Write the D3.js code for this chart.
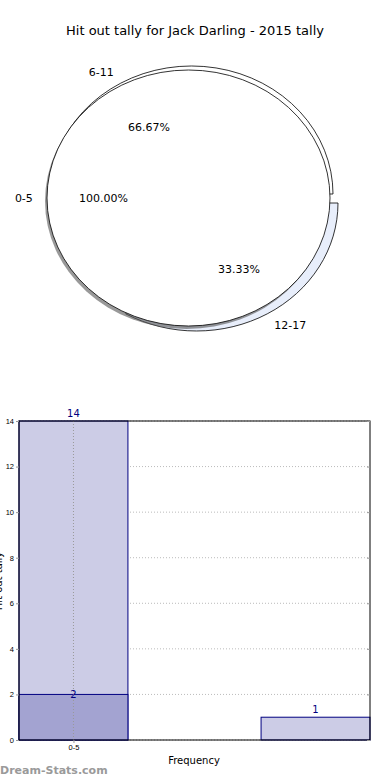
<!DOCTYPE html>
<html>
<head>
<meta charset="utf-8">
<script src="https://cdn.jsdelivr.net/npm/d3@7"></script>
<style>
  body { margin: 0; background: #fff; }
  svg { display: block; font-family: "DejaVu Sans", sans-serif; }
</style>
</head>
<body>
<svg width="390" height="780"></svg>
<script>
// pie data (fractions as printed, not normalised)
var pieLabels = ["0-5", "6-11", "12-17"];
var pieFractions = [1.0, 0.6667, 0.3333];

// bar data
var barCategories = ["0-5", "6-11", "12-17"];
var totalValues = [14, 0, 1];
var seasonValues = [2, 0, 0];
var yTicks = [0, 2, 4, 6, 8, 10, 12, 14];

var svg = d3.select("svg");

svg.append("text")
  .attr("x", 195).attr("y", 35)
  .attr("text-anchor", "middle")
  .style("font-size", "13px")
  .text("Hit out tally for Jack Darling - 2015 tally");

// ---- pie ----
var pie = { cx: 188.5, cy: 198, rx: 141.5, ry: 128 };
var explode = [[0, 0], [3, -4], [8, 5]];
var fills = ["#ffffff", "#ffffff", "#e8eefb"];

// matplotlib style angles: ccw from 3 o'clock, cumulative
var wedges = [];
var acc = 0;
pieFractions.forEach((f, i) => {
  wedges.push({ key: pieLabels[i], value: f, t0: acc * 2 * Math.PI, t1: (acc + f) * 2 * Math.PI, i: i });
  acc += f;
});

var arc = d3.arc()
  .innerRadius(0)
  .outerRadius(1)
  .startAngle(d => Math.PI / 2 - d.t1)
  .endAngle(d => Math.PI / 2 - d.t0);

var pieG = svg.append("g");

function wedgeTransform(d, sx, sy) {
  var o = explode[d.i];
  return `translate(${pie.cx + o[0] + (sx || 0)}, ${pie.cy + o[1] + (sy || 0)}) scale(${pie.rx}, ${pie.ry})`;
}

// exploded wedges underneath
pieG.selectAll(".wedge")
  .data(wedges.slice(1))
  .enter()
  .append("path")
    .attr("d", arc)
    .attr("transform", d => wedgeTransform(d))
    .attr("fill", d => fills[d.i])
    .attr("stroke", "#000")
    .attr("stroke-width", 0.8)
    .attr("vector-effect", "non-scaling-stroke");

// full wedge with shadow on top
pieG.append("path")
  .attr("d", arc(wedges[0]))
  .attr("transform", wedgeTransform(wedges[0], -2, 3))
  .attr("fill", "#555")
  .attr("opacity", 0.6);

pieG.append("path")
  .attr("d", arc(wedges[0]))
  .attr("transform", wedgeTransform(wedges[0]))
  .attr("fill", fills[0])
  .attr("stroke", "#000")
  .attr("stroke-width", 0.8)
  .attr("vector-effect", "non-scaling-stroke");

// labels
wedges.forEach(d => {
  var mid = (d.t0 + d.t1) / 2;
  var o = explode[d.i];
  var c = Math.cos(mid), s = Math.sin(mid);
  pieG.append("text")
    .attr("x", pie.cx + o[0] + 1.1 * pie.rx * c)
    .attr("y", pie.cy + o[1] - 1.1 * pie.ry * s)
    .attr("dy", "0.35em")
    .attr("text-anchor", c < -0.01 ? "end" : "start")
    .style("font-size", "11px")
    .text(d.key);
  pieG.append("text")
    .attr("x", pie.cx + o[0] + 0.6 * pie.rx * c)
    .attr("y", pie.cy + o[1] - 0.6 * pie.ry * s)
    .attr("dy", "0.35em")
    .attr("text-anchor", "middle")
    .style("font-size", "11px")
    .text(d3.format(".2f")(d.value * 100) + "%");
});

// ---- bars ----
var plot = { left: 19, right: 370, top: 421, bottom: 740 };
var barW = 0.9;

var xScale = d3.scaleLinear()
  .domain([-0.45, 2.45])
  .range([plot.left, plot.right]);

var yScale = d3.scaleLinear()
  .domain([0, 14])
  .range([plot.bottom, plot.top]);

var barG = svg.append("g");

// grid
barG.selectAll(".hgrid")
  .data(yTicks)
  .enter()
  .append("line")
    .attr("x1", plot.left).attr("x2", plot.right)
    .attr("y1", d => yScale(d)).attr("y2", d => yScale(d))
    .attr("stroke", "#bbb")
    .attr("stroke-dasharray", "1,2");

var bars = barCategories.map((c, i) => ({ key: c, i: i, total: totalValues[i], season: seasonValues[i] }));

barG.selectAll(".bar-total")
  .data(bars.filter(d => d.total > 0))
  .enter()
  .append("rect")
    .attr("x", d => xScale(d.i - barW / 2))
    .attr("width", d => xScale(d.i + barW / 2) - xScale(d.i - barW / 2))
    .attr("y", d => yScale(d.total))
    .attr("height", d => yScale(0) - yScale(d.total))
    .attr("fill", "#ccccE6")
    .attr("stroke", "#000080")
    .attr("stroke-width", 1);

barG.selectAll(".bar-season")
  .data(bars.filter(d => d.season > 0))
  .enter()
  .append("rect")
    .attr("x", d => xScale(d.i - barW / 2))
    .attr("width", d => xScale(d.i + barW / 2) - xScale(d.i - barW / 2))
    .attr("y", d => yScale(d.season))
    .attr("height", d => yScale(0) - yScale(d.season))
    .attr("fill", "#a3a3d1")
    .attr("stroke", "#000080")
    .attr("stroke-width", 1);

// vertical grid at the labelled tick
barG.append("line")
  .attr("x1", xScale(0)).attr("x2", xScale(0))
  .attr("y1", plot.top).attr("y2", plot.bottom)
  .attr("stroke", "#999")
  .attr("stroke-dasharray", "1,2");

// value labels
barG.selectAll(".lbl-total")
  .data(bars.filter(d => d.total > 0))
  .enter()
  .append("text")
    .attr("x", d => xScale(d.i))
    .attr("y", d => yScale(d.total) - 4)
    .attr("text-anchor", "middle")
    .attr("fill", "#000080")
    .style("font-size", "10px")
    .text(d => d.total);

barG.selectAll(".lbl-season")
  .data(bars.filter(d => d.season > 0))
  .enter()
  .append("text")
    .attr("x", d => xScale(d.i))
    .attr("y", d => yScale(d.season) + 4)
    .attr("text-anchor", "middle")
    .attr("fill", "#000080")
    .style("font-size", "10px")
    .text(d => d.season);

// frame
barG.append("rect")
  .attr("x", plot.left).attr("y", plot.top)
  .attr("width", plot.right - plot.left)
  .attr("height", plot.bottom - plot.top)
  .attr("fill", "none")
  .attr("stroke", "#000")
  .attr("stroke-width", 1);

// axes
var yAxis = barG.append("g")
  .attr("transform", `translate(${plot.left}, 0)`)
  .call(d3.axisLeft(yScale).tickValues(yTicks).tickSize(3).tickPadding(2));
var xAxis = barG.append("g")
  .attr("transform", `translate(0, ${plot.bottom})`)
  .call(d3.axisBottom(xScale).tickValues([0]).tickFormat(() => barCategories[0]).tickSize(3).tickPadding(2));
barG.append("g")
  .attr("transform", `translate(${plot.right}, 0)`)
  .call(d3.axisLeft(yScale).tickValues(yTicks).tickSize(3).tickFormat(""))
  .call(g => g.select(".domain").remove());

[yAxis, xAxis].forEach(g => {
  g.select(".domain").remove();
  g.selectAll("text").style("font-size", "7.5px").attr("fill", "#000");
});
barG.selectAll(".tick line").attr("stroke", "#999");

barG.append("text")
  .attr("x", 194).attr("y", 764)
  .attr("text-anchor", "middle")
  .style("font-size", "10px")
  .text("Frequency");

// y label sits mostly off the left edge, as in the original
barG.append("text")
  .attr("transform", "translate(2, 581) rotate(-90)")
  .attr("text-anchor", "middle")
  .style("font-size", "10px")
  .text("Hit out tally");

svg.append("text")
  .attr("x", 0).attr("y", 774)
  .attr("fill", "#9a9a9a")
  .style("font-size", "11px")
  .style("font-weight", "bold")
  .text("Dream-Stats.com");
</script>
</body>
</html>
